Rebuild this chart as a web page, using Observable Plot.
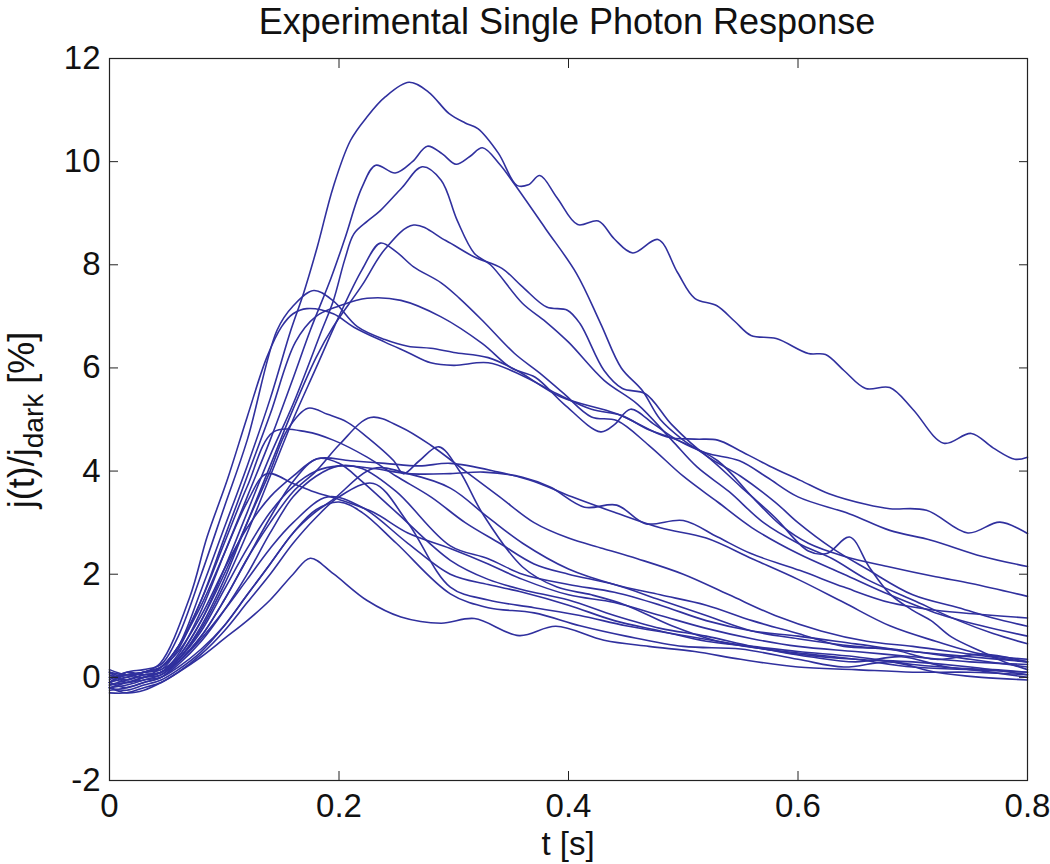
<!DOCTYPE html>
<html><head><meta charset="utf-8">
<script src="https://cdn.jsdelivr.net/npm/d3@7"></script>
<script src="https://cdn.jsdelivr.net/npm/@observablehq/plot@0.6"></script>
<style>body{margin:0;background:#fff}</style>
</head><body><div id="chart"></div>
<script>
// ---- data: each response trace as [t (s), j(t)/j_dark (%)] ----
const xTicks = [0, 0.2, 0.4, 0.6, 0.8];
const yTicks = [-2, 0, 2, 4, 6, 8, 10, 12];

const traceA = [[0,-0.1],[0.015,0.05],[0.03,0.0],[0.045,0.2],[0.06,0.6],[0.08,1.7],[0.1,2.9],[0.12,4.1],[0.14,5.4],[0.158,6.73],[0.169,7.44],[0.181,8.34],[0.195,9.51],[0.21,10.41],[0.2245,10.87],[0.24,11.25],[0.261,11.54],[0.278,11.35],[0.296,10.93],[0.31,10.75],[0.321,10.64],[0.339,10.16],[0.355,9.54],[0.365,9.55],[0.375,9.73],[0.39,9.3],[0.408,8.78],[0.426,8.85],[0.44,8.5],[0.456,8.23],[0.478,8.49],[0.495,7.85],[0.51,7.35],[0.529,7.21],[0.545,6.9],[0.559,6.63],[0.581,6.57],[0.609,6.28],[0.624,6.26],[0.64,5.95],[0.659,5.6],[0.68,5.62],[0.7,5.2],[0.727,4.54],[0.751,4.73],[0.77,4.45],[0.789,4.23],[0.8,4.27]];
const traceB = [[0,-0.15],[0.015,-0.05],[0.03,0.05],[0.045,0.1],[0.06,0.45],[0.08,1.3],[0.1,2.4],[0.12,3.5],[0.14,4.6],[0.16,5.8],[0.175,6.73],[0.193,7.74],[0.205,8.5],[0.22,9.5],[0.232,9.93],[0.249,9.78],[0.264,10.0],[0.277,10.3],[0.29,10.15],[0.302,9.95],[0.314,10.1],[0.325,10.27],[0.34,9.95],[0.353,9.56],[0.38,8.7],[0.407,7.83],[0.428,6.86],[0.446,6.0],[0.464,5.57],[0.48,5.0],[0.5,4.6],[0.52,4.3],[0.55,3.7],[0.58,3.1],[0.609,2.45],[0.625,2.4],[0.645,2.72],[0.662,2.14],[0.68,1.62],[0.7,1.3],[0.716,1.1],[0.734,0.78],[0.76,0.5],[0.78,0.3],[0.8,0.15]];
const traceC = [[0,-0.1],[0.015,0.0],[0.03,0.1],[0.045,0.15],[0.06,0.4],[0.08,1.1],[0.1,2.1],[0.12,3.2],[0.14,4.3],[0.16,5.3],[0.185,6.73],[0.195,7.3],[0.205,8.1],[0.213,8.6],[0.225,8.85],[0.236,9.05],[0.255,9.5],[0.2725,9.9],[0.289,9.64],[0.303,8.86],[0.318,8.22],[0.332,8.0],[0.36,7.25],[0.38,6.9],[0.4,6.5],[0.431,5.76],[0.46,5.3],[0.49,4.6],[0.512,4.08],[0.54,3.6],[0.57,3.0],[0.6,2.6],[0.63,2.3],[0.66,1.9],[0.7,1.5],[0.74,1.1],[0.77,0.85],[0.8,0.65]];
const traceD = [[0,0.05],[0.015,-0.05],[0.03,0.05],[0.045,0.1],[0.06,0.35],[0.08,1.0],[0.1,1.9],[0.12,3.0],[0.14,4.1],[0.16,5.2],[0.18,6.2],[0.195,6.8],[0.22,7.6],[0.24,8.3],[0.265,8.77],[0.293,8.47],[0.318,8.15],[0.342,7.93],[0.36,7.57],[0.381,7.18],[0.399,7.12],[0.41,6.86],[0.431,5.95],[0.447,5.6],[0.467,5.5],[0.49,4.9],[0.52,4.3],[0.55,3.9],[0.58,3.4],[0.6,3.0],[0.63,2.5],[0.66,2.1],[0.7,1.6],[0.74,1.35],[0.77,1.15],[0.8,0.99]];
const traceE = [[0,-0.2],[0.015,-0.1],[0.03,0.0],[0.045,0.05],[0.06,0.35],[0.08,0.95],[0.1,1.8],[0.12,2.8],[0.14,3.9],[0.16,5.0],[0.18,6.0],[0.2,7.0],[0.22,7.9],[0.236,8.42],[0.25,8.25],[0.265,7.96],[0.289,7.65],[0.305,7.35],[0.325,6.92],[0.353,6.28],[0.375,5.9],[0.396,5.5],[0.42,5.05],[0.442,4.98],[0.47,4.5],[0.5,3.9],[0.53,3.4],[0.56,2.9],[0.6,2.4],[0.64,2.0],[0.68,1.6],[0.72,1.25],[0.76,1.0],[0.8,0.8]];
const traceF = [[0,0.1],[0.015,0.0],[0.03,0.1],[0.045,0.15],[0.06,0.55],[0.08,1.5],[0.1,2.7],[0.12,3.9],[0.14,5.1],[0.162,6.5],[0.18,7.0],[0.2,7.2],[0.2245,7.35],[0.254,7.31],[0.289,6.99],[0.325,6.47],[0.35,6.0],[0.371,5.82],[0.396,5.3],[0.428,4.76],[0.44,4.9],[0.454,5.2],[0.475,4.9],[0.495,4.6],[0.52,4.35],[0.549,4.2],[0.573,3.88],[0.6,3.5],[0.645,3.17],[0.68,2.85],[0.716,2.66],[0.76,2.35],[0.8,2.15]];
const traceG = [[0,-0.1],[0.015,0.1],[0.03,0.15],[0.045,0.25],[0.06,0.8],[0.08,2.0],[0.1,3.3],[0.12,4.6],[0.146,6.73],[0.16,7.2],[0.178,7.5],[0.195,7.3],[0.216,6.8],[0.24,6.55],[0.26,6.42],[0.28,6.38],[0.3,6.3],[0.33,6.2],[0.355,5.95],[0.393,5.44],[0.442,5.11],[0.486,4.66],[0.51,4.62],[0.53,4.6],[0.549,4.4],[0.575,4.1],[0.602,3.82],[0.627,3.56],[0.66,3.35],[0.68,3.27],[0.712,3.24],[0.748,2.8],[0.776,3.01],[0.8,2.79]];
const traceH = [[0,0.0],[0.015,0.05],[0.03,0.1],[0.044,0.27],[0.07,1.56],[0.085,2.72],[0.1025,3.82],[0.12,5.05],[0.137,6.2],[0.15,6.8],[0.16,7.05],[0.172,7.15],[0.195,7.05],[0.213,6.79],[0.24,6.5],[0.26,6.3],[0.28,6.1],[0.3,6.05],[0.33,6.1],[0.36,5.85],[0.39,5.5],[0.42,5.2],[0.446,5.08],[0.47,4.8],[0.495,4.6],[0.53,4.2],[0.56,3.5],[0.585,2.95],[0.609,2.6],[0.64,2.35],[0.68,2.14],[0.72,1.95],[0.751,1.82],[0.8,1.57]];
const traceM1 = [[0,0.1],[0.015,-0.1],[0.03,0.0],[0.045,0.1],[0.06,0.4],[0.08,1.1],[0.1,2.0],[0.12,3.0],[0.14,4.0],[0.155,4.8],[0.173,5.22],[0.19,5.1],[0.207,4.95],[0.2245,4.66],[0.2477,4.2],[0.256,3.95],[0.27,4.2],[0.287,4.47],[0.305,4.0],[0.325,3.18],[0.36,2.14],[0.39,1.75],[0.42,1.6],[0.45,1.4],[0.49,1.0],[0.53,0.7],[0.57,0.55],[0.61,0.45],[0.65,0.35],[0.7,0.2],[0.75,0.15],[0.8,0.1]];
const traceM2 = [[0,-0.2],[0.015,-0.15],[0.03,-0.05],[0.045,0.05],[0.06,0.3],[0.08,0.8],[0.1,1.5],[0.12,2.3],[0.14,3.0],[0.16,3.6],[0.18,4.0],[0.201,4.53],[0.2275,5.04],[0.254,4.85],[0.28,4.5],[0.31,4.0],[0.34,3.5],[0.37,3.0],[0.4,2.7],[0.43,2.5],[0.46,2.3],[0.5,2.0],[0.54,1.6],[0.58,1.2],[0.62,0.9],[0.66,0.7],[0.7,0.6],[0.75,0.45],[0.8,0.3]];
const traceM3 = [[0,-0.1],[0.015,0.05],[0.03,0.1],[0.045,0.2],[0.06,0.6],[0.08,1.5],[0.1,2.6],[0.12,3.7],[0.143,4.76],[0.172,4.76],[0.195,4.6],[0.2245,4.27],[0.25,3.9],[0.28,3.5],[0.31,3.0],[0.34,2.6],[0.37,2.2],[0.4,2.0],[0.44,1.8],[0.48,1.5],[0.52,1.2],[0.56,0.9],[0.6,0.75],[0.65,0.6],[0.7,0.5],[0.75,0.35],[0.8,0.2]];
const traceM4 = [[0,0.15],[0.015,0.05],[0.03,0.1],[0.045,0.2],[0.06,0.6],[0.08,1.4],[0.1,2.4],[0.12,3.4],[0.137,3.95],[0.16,3.76],[0.178,3.6],[0.2,3.45],[0.23,3.2],[0.26,2.8],[0.297,2.5],[0.33,2.2],[0.36,1.9],[0.4,1.6],[0.44,1.45],[0.48,1.2],[0.52,0.95],[0.56,0.75],[0.6,0.6],[0.65,0.5],[0.7,0.4],[0.75,0.3],[0.8,0.25]];
const traceM5 = [[0,-0.25],[0.015,-0.2],[0.03,-0.1],[0.045,0.0],[0.06,0.3],[0.08,0.8],[0.1,1.5],[0.12,2.3],[0.14,3.1],[0.16,3.8],[0.181,4.24],[0.2,4.15],[0.22,3.8],[0.25,3.2],[0.297,2.27],[0.33,1.9],[0.36,1.7],[0.4,1.5],[0.44,1.2],[0.48,0.95],[0.52,0.8],[0.56,0.6],[0.6,0.45],[0.65,0.35],[0.7,0.3],[0.75,0.2],[0.8,0.05]];
const traceM6 = [[0,-0.1],[0.015,-0.2],[0.03,-0.1],[0.045,0.0],[0.06,0.25],[0.08,0.7],[0.1,1.3],[0.12,2.0],[0.14,2.8],[0.16,3.5],[0.18,3.9],[0.2,4.1],[0.22,4.05],[0.25,3.6],[0.297,2.55],[0.33,2.3],[0.36,2.0],[0.4,1.8],[0.44,1.65],[0.48,1.4],[0.52,1.1],[0.56,0.9],[0.6,0.8],[0.65,0.65],[0.7,0.5],[0.75,0.4],[0.8,0.3]];
const traceM7 = [[0,0.0],[0.015,-0.1],[0.03,0.0],[0.045,0.1],[0.06,0.3],[0.08,0.75],[0.1,1.3],[0.12,1.9],[0.14,2.5],[0.16,3.0],[0.19,3.5],[0.22,3.3],[0.26,2.6],[0.297,2.0],[0.33,1.8],[0.36,1.65],[0.4,1.4],[0.44,1.1],[0.48,0.9],[0.52,0.7],[0.56,0.6],[0.6,0.5],[0.65,0.4],[0.7,0.25],[0.75,0.15],[0.8,0.0]];
const traceM8 = [[0,-0.2],[0.015,-0.25],[0.03,-0.15],[0.045,-0.05],[0.06,0.15],[0.08,0.5],[0.1,1.0],[0.12,1.6],[0.14,2.2],[0.16,2.8],[0.178,3.18],[0.195,3.45],[0.23,4.05],[0.26,3.95],[0.297,3.67],[0.33,3.1],[0.36,2.6],[0.4,2.1],[0.44,1.8],[0.48,1.6],[0.52,1.4],[0.56,1.1],[0.6,0.85],[0.64,0.6],[0.68,0.55],[0.72,0.35],[0.76,0.45],[0.8,0.3]];
const traceM9 = [[0,-0.3],[0.015,-0.3],[0.03,-0.2],[0.045,-0.1],[0.06,0.1],[0.08,0.45],[0.1,0.9],[0.12,1.45],[0.14,2.0],[0.16,2.6],[0.18,3.1],[0.2,3.5],[0.23,3.76],[0.26,3.0],[0.297,1.75],[0.33,1.5],[0.37,1.35],[0.41,1.2],[0.45,1.0],[0.49,0.85],[0.53,0.7],[0.57,0.55],[0.61,0.4],[0.65,0.3],[0.69,0.4],[0.73,0.2],[0.77,0.15],[0.8,0.1]];
const traceM10 = [[0,-0.15],[0.015,-0.1],[0.03,-0.05],[0.045,0.0],[0.06,0.2],[0.08,0.55],[0.1,1.0],[0.12,1.6],[0.14,2.2],[0.16,2.8],[0.18,3.25],[0.2,3.4],[0.22,3.2],[0.25,2.6],[0.297,1.62],[0.33,1.35],[0.37,1.25],[0.41,1.0],[0.45,0.8],[0.5,0.6],[0.55,0.55],[0.6,0.35],[0.64,0.2],[0.68,0.3],[0.72,0.1],[0.76,0.0],[0.8,-0.05]];
const traceP1 = [[0,-0.05],[0.015,0.1],[0.03,0.05],[0.045,0.1],[0.06,0.35],[0.08,0.9],[0.1,1.7],[0.12,2.5],[0.14,3.2],[0.16,3.7],[0.18,4.0],[0.2,4.1],[0.23,4.05],[0.26,3.95],[0.297,3.95],[0.326,3.98],[0.36,3.88],[0.384,3.69],[0.414,3.3],[0.442,3.34],[0.467,2.98],[0.5,3.04],[0.53,2.72],[0.559,2.4],[0.602,2.07],[0.64,1.75],[0.68,1.45],[0.72,1.3],[0.76,1.22],[0.8,1.15]];
const traceP2 = [[0,0.1],[0.015,0.05],[0.03,0.1],[0.045,0.2],[0.06,0.5],[0.08,1.2],[0.1,2.1],[0.12,2.9],[0.14,3.5],[0.16,3.9],[0.181,4.24],[0.21,4.2],[0.24,4.15],[0.27,4.1],[0.297,4.15],[0.339,3.98],[0.37,3.8],[0.403,3.5],[0.44,3.2],[0.48,2.9],[0.52,2.7],[0.56,2.3],[0.6,1.9],[0.64,1.45],[0.68,1.0],[0.72,0.7],[0.76,0.45],[0.8,0.35]];
const traceL = [[0,-0.2],[0.015,-0.3],[0.03,-0.25],[0.045,-0.1],[0.06,0.1],[0.08,0.4],[0.1,0.75],[0.12,1.1],[0.14,1.5],[0.16,2.0],[0.175,2.31],[0.195,2.01],[0.2245,1.49],[0.254,1.17],[0.289,1.05],[0.318,1.14],[0.357,0.81],[0.389,0.99],[0.431,0.72],[0.47,0.6],[0.51,0.5],[0.55,0.35],[0.6,0.2],[0.65,0.15],[0.7,0.1],[0.75,0.1],[0.8,0.05]];

const series = [
  ["A", traceA], ["B", traceB], ["C", traceC], ["D", traceD], ["E", traceE],
  ["F", traceF], ["G", traceG], ["H", traceH], ["M1", traceM1], ["M2", traceM2],
  ["M3", traceM3], ["M4", traceM4], ["M5", traceM5], ["M6", traceM6], ["M7", traceM7],
  ["M8", traceM8], ["M9", traceM9], ["M10", traceM10], ["P1", traceP1], ["P2", traceP2],
  ["L", traceL]
];
const rows = series.flatMap(([id, pts]) => pts.map(([t, v]) => ({id, t, v})));

const FONT = "'Liberation Sans', Arial, Helvetica, sans-serif";
const lineColor = "#30309e";

const plot = Plot.plot({
  width: 1050, height: 864,
  marginLeft: 109, marginRight: 23, marginTop: 58, marginBottom: 84,
  style: {fontFamily: FONT, fontSize: "33px", background: "white", color: "#111"},
  x: {domain: [0, 0.8]},
  y: {domain: [-2, 12]},
  marks: [
    Plot.line(rows, {x: "t", y: "v", z: "id", stroke: lineColor, strokeWidth: 1.6, curve: "catmull-rom"}),
    Plot.frame({stroke: "#222", strokeWidth: 1.2}),
    Plot.axisX({ticks: xTicks, anchor: "bottom", tickSize: -9, tickPadding: 22, tickFormat: d => String(d), label: null, stroke: "#222"}),
    Plot.axisX({ticks: xTicks, anchor: "top", tickSize: -9, tickFormat: () => "", label: null, stroke: "#222"}),
    Plot.axisY({ticks: yTicks, anchor: "left", tickSize: -9, tickPadding: 18, tickFormat: d => String(d), label: null, stroke: "#222"}),
    Plot.axisY({ticks: yTicks, anchor: "right", tickSize: -9, tickFormat: () => "", label: null, stroke: "#222"})
  ]
});

const svg = d3.select(plot);
svg.append("text").attr("x", 567).attr("y", 34).attr("text-anchor", "middle")
  .attr("font-family", FONT).attr("font-size", 36).attr("fill", "#111")
  .text("Experimental Single Photon Response");
svg.append("text").attr("x", 568).attr("y", 855).attr("text-anchor", "middle")
  .attr("font-family", FONT).attr("font-size", 33).attr("fill", "#111")
  .text("t [s]");
const yl = svg.append("text").attr("transform", "translate(34,420) rotate(-90)")
  .attr("text-anchor", "middle").attr("font-family", FONT).attr("font-size", 36).attr("fill", "#111");
yl.append("tspan").text("j(t)/j");
yl.append("tspan").attr("dy", 9).attr("font-size", 28).text("dark");
yl.append("tspan").attr("dy", -9).text(" [%]");

document.getElementById("chart").appendChild(plot);
</script>
</body></html>
